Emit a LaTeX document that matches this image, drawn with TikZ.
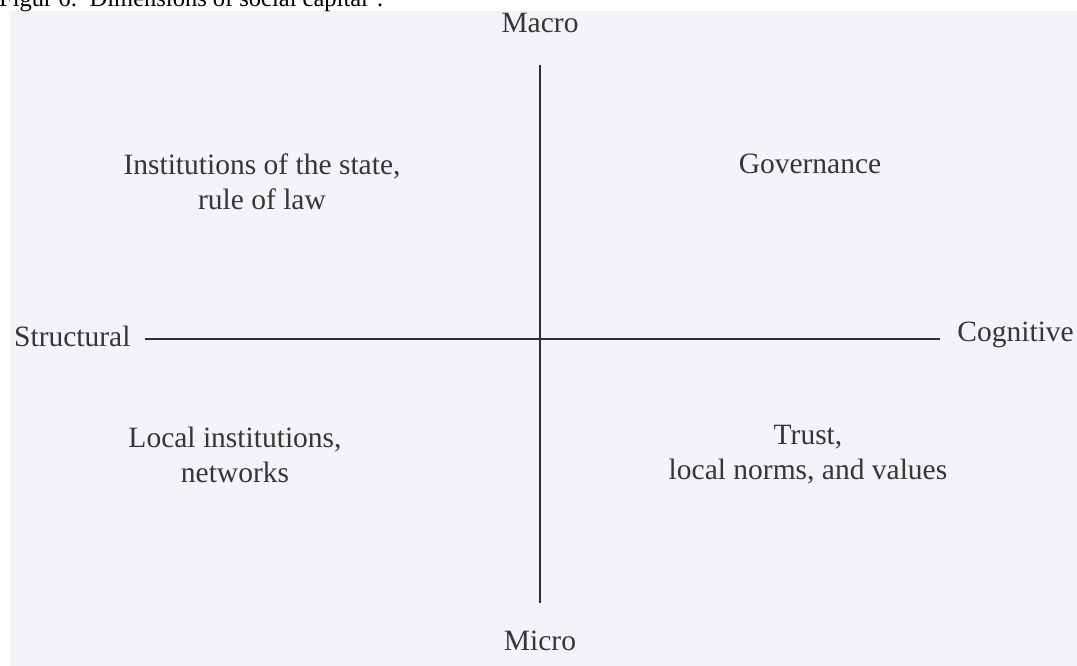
\documentclass[tikz,border=0pt]{standalone}
\usepackage{fontspec}
\setmainfont{Liberation Serif}
\definecolor{paper}{HTML}{F3F4F7}
\definecolor{ink}{HTML}{363636}
\definecolor{axis}{HTML}{2E2E2E}
\tikzset{
  lbl/.style={text=ink, font=\fontsize{29.5}{35}\selectfont, inner sep=0pt, align=center},
  axisline/.style={draw=axis, line width=1.8pt},
}
\begin{document}
\begin{tikzpicture}[x=1pt,y=-1pt]
\useasboundingbox (0,0) rectangle (1077,666);
\clip (0,0) rectangle (1077,666);
\fill[white] (0,0) rectangle (1077,666);
\fill[paper] (10,11) rectangle (1077,666);
\node[anchor=base west, inner sep=0pt, font=\fontsize{24.5}{30}\selectfont, text=black] (cap) at (-1,7) {Figur 6:\ \ Dimensions of social capital\textsuperscript{1}.};
% axes
\coordinate (top) at (540,65);
\coordinate (bot) at (540,603);
\coordinate (lft) at (145,339);
\coordinate (rgt) at (940,339);
\draw[axisline] (top) -- (bot);
\draw[axisline] (lft) -- (rgt);
% axis labels
\node[lbl] (macro) at (540,23) {Macro};
\node[lbl] (micro) at (540,641) {Micro};
\node[lbl, anchor=west] (struct) at (14,336) {Structural};
\node[lbl, anchor=east] (cogn) at (1074,335) {Cognitive};
% quadrant labels
\node[lbl] (q1) at (262,182) {Institutions of the state,\\rule of law};
\node[lbl] (q2) at (810,164) {Governance};
\node[lbl] (q3) at (235,455) {Local institutions,\\networks};
\node[lbl] (q4) at (808,455) {Trust,\\local norms, and values};
\end{tikzpicture}
\end{document}
